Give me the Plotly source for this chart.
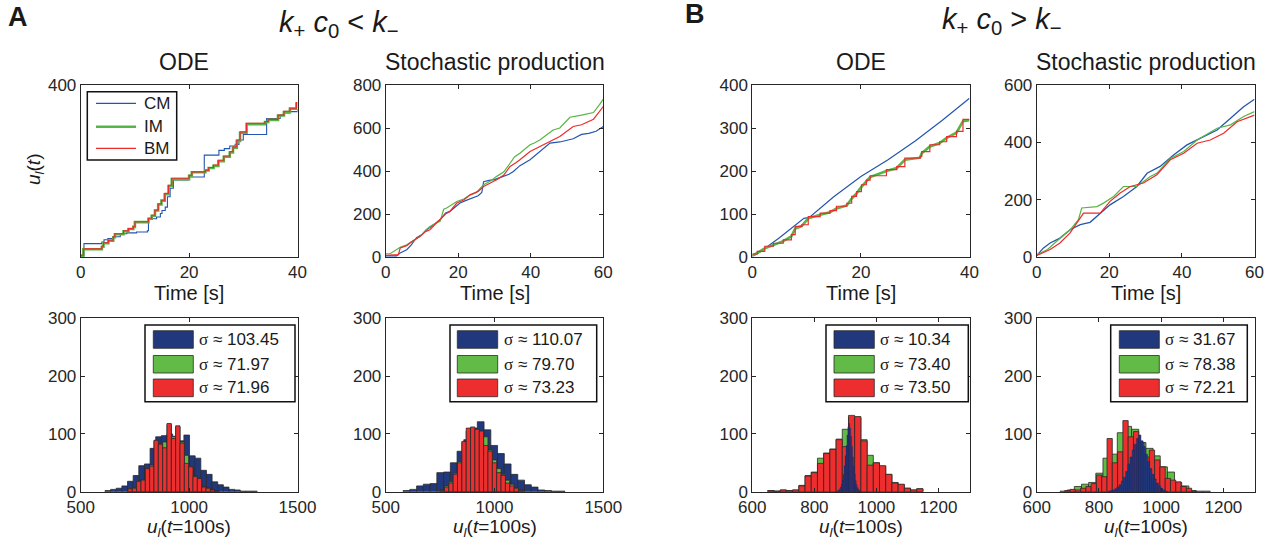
import plotly.graph_objects as go

W, H = 1281, 548
FONT = "Liberation Sans, Arial, sans-serif"
INK = "#262626"

# ---------------- data: trajectories ----------------
# Panel A, ODE
a_ode_t_cm = [0, 0.6, 3.9, 4.3, 5.0, 6.0, 7.3, 8.5, 10.3, 12.3, 12.5, 14.0, 14.7, 15.0, 15.6, 16.0, 16.5,
              17.1, 19.9, 22.8, 25.5, 26.5, 27.5, 28.5, 29.2, 30.0, 34.3, 36.8, 37.4, 38.6, 40]
a_ode_cm = [4, 31, 35, 40, 43, 47, 54, 56, 58, 61, 89, 93, 101, 108, 116, 140, 160,
            179, 186, 237, 248, 252, 258, 262, 272, 285, 322, 330, 335, 338, 343]
a_ode_t_im = [0, 0.5, 3.9, 4.2, 5.1, 6.0, 6.3, 7.9, 8.8, 9.7, 10.0, 12.5, 13.1, 13.7, 14.3, 14.9, 15.5,
              16.2, 16.8, 20.0, 20.5, 23.0, 23.6, 24.5, 25.4, 26.4, 27.5, 28.1, 28.8, 29.4, 30.6, 34.0,
              34.6, 36.4, 37.5, 38.6, 39.8, 40]
a_ode_im = [3, 18, 24, 32, 38, 46, 53, 60, 65, 70, 81, 89, 96, 108, 122, 131, 146,
            165, 181, 189, 197, 201, 207, 212, 223, 233, 243, 254, 270, 289, 309, 314,
            319, 329, 337, 345, 357, 357]
a_ode_bm = [4, 19, 25, 33, 39, 47, 54, 61, 66, 71, 82, 90, 97, 109, 124, 132, 148,
            167, 183, 190, 198, 202, 208, 214, 225, 235, 245, 256, 272, 291, 311, 315,
            320, 330, 339, 346, 359, 359]

# Panel A, stochastic production
a_st_t_cm = [0, 3, 4, 5.8, 7, 8.5, 10, 11.3, 13, 15, 16.5, 17.7, 19, 20.5, 22, 24.2, 25.5, 26.5, 27,
             28.5, 30, 32.4, 34, 35.2, 37, 39.8, 42, 45.3, 48, 51.7, 54, 56, 58, 60]
a_st_cm = [5, 5, 19, 34, 55, 90, 104, 127, 148, 173, 205, 212, 230, 251, 262, 277, 285, 300, 350,
           356, 360, 375, 385, 398, 425, 452, 485, 530, 535, 550, 570, 575, 585, 607]
a_st_t_im = [0, 1.2, 4, 5.8, 7.5, 9.5, 11, 12.2, 13.5, 15, 16, 16.8, 19.6, 21.5, 23.3, 25, 27, 29,
             30.6, 32.5, 34.3, 35.5, 37, 39.8, 41, 42.6, 44.5, 46.2, 48, 50.8, 54, 57.3, 59, 60]
a_st_im = [15, 15, 45, 57, 75, 96, 125, 142, 155, 166, 222, 228, 258, 270, 289, 300, 336, 355,
           375, 395, 436, 465, 483, 522, 530, 545, 570, 591, 600, 650, 660, 672, 710, 734]
a_st_t_bm = [0, 3, 3.5, 4, 5.8, 7.5, 9.5, 11, 12.2, 13.5, 15, 16.5, 17.7, 19.6, 21.5, 23.3, 25.5, 27,
             29, 30.6, 32.5, 34.3, 36, 37, 39.8, 41.5, 44, 46.2, 48, 51.7, 54, 57.3, 59, 60]
a_st_bm = [8, 8, 11, 42, 53, 75, 96, 118, 127, 150, 173, 200, 212, 251, 265, 289, 305, 328,
           345, 359, 380, 421, 440, 452, 491, 506, 525, 545, 560, 607, 615, 641, 680, 700]

# Panel B, ODE
b_ode_t_cm = [0, 1, 5, 9.5, 10.5, 15, 20, 25, 30, 35, 40]
b_ode_cm = [2, 8, 45, 90, 92, 140, 187, 226, 270, 318, 369]
b_ode_t = [0, 0.9, 2.3, 3.9, 5.7, 7.2, 7.9, 9.1, 10.3, 12.5, 14.3, 15.5, 17.4, 18.3, 19.2, 20.1,
           21.0, 21.7, 24.7, 26.6, 28.1, 30.9, 31.2, 32.7, 34.5, 35.8, 37.6, 38.8, 40]
b_ode_im = [4, 9, 20, 28, 37, 48, 66, 72, 90, 98, 104, 113, 120, 136, 148, 163,
            175, 186, 200, 207, 226, 231, 241, 257, 265, 277, 289, 316, 318]
b_ode_bm = [7, 13, 25, 32, 40, 52, 71, 75, 94, 102, 108, 118, 125, 141, 152, 168,
            179, 189, 203, 210, 230, 234, 245, 261, 268, 280, 292, 320, 320]

# Panel B, stochastic production
b_st_t_cm = [0, 1.8, 3.7, 6.4, 9.2, 12, 14.7, 17.5, 20.2, 23.9, 27.6, 30.4, 34, 37.7, 41.4, 45,
             49.7, 53.4, 57, 60]
b_st_cm = [5, 31, 49, 66, 95, 113, 121, 153, 182, 211, 246, 292, 316, 356, 391, 414, 443, 484, 524, 550]
b_st_t_im = [0, 3, 5.5, 9.2, 11.5, 12.4, 16.6, 18.4, 21.2, 23.9, 27.6, 31.3, 33.1, 36.8, 40.5,
             44.2, 49.7, 53.4, 57, 60]
b_st_im = [8, 26, 55, 95, 130, 171, 176, 188, 211, 246, 246, 281, 292, 344, 368, 408, 449, 461, 490, 507]
b_st_t_bm = [0, 3.7, 6.4, 9.2, 12.9, 17.5, 20.2, 23, 25.8, 29.4, 33.1, 36.8, 40.5, 44.2, 47.8, 51.5,
             55.2, 60]
b_st_bm = [5, 26, 49, 84, 153, 153, 194, 223, 246, 258, 287, 339, 362, 397, 408, 432, 472, 495]

# ---------------- data: histograms (first bin edge, bin width, counts) ----------------
a_ode_h_cm = (612, 26, [2, 4, 6, 10, 18, 28, 45, 48, 75, 95, 97, 100, 96, 88, 98, 62, 58, 37, 30,
                        17, 12, 8, 4, 3, 1, 1, 1])
a_ode_h_im = (718, 20, [5, 7, 17, 21, 39, 46, 88, 83, 86, 116, 95, 112, 86, 63, 42, 27, 22, 9, 6, 3, 1])
a_ode_h_bm = (718, 20, [5, 6, 18, 20, 40, 44, 89, 82, 76, 118, 92, 114, 84, 49, 43, 26, 23, 8, 6, 3, 1])

a_st_h_cm = (580, 31, [2, 4, 10, 13, 14, 33, 34, 50, 70, 90, 110, 121, 107, 80, 66, 48, 30, 20, 12,
                       8, 3, 2, 1, 1])
a_st_h_im = (750, 20, [3, 10, 17, 32, 52, 85, 105, 110, 107, 100, 95, 72, 55, 40, 30, 20, 13, 7, 3])
a_st_h_bm = (750, 20, [2, 8, 15, 30, 50, 87, 110, 112, 108, 105, 80, 70, 50, 33, 28, 15, 10, 6, 2])

b_ode_h_cm = (872, 3, [1, 2, 3, 5, 8, 13, 20, 30, 45, 62, 80, 98, 112, 118, 110, 96, 78, 60, 44, 30,
                       19, 12, 7, 4, 2, 1])
b_ode_h_im = (650, 20, [2, 1, 3, 2, 3, 11, 28, 34, 58, 67, 74, 91, 108, 128, 128, 90, 63, 50, 44, 30,
                        16, 12, 6, 3, 5])
b_ode_h_bm = (650, 20, [2, 1, 3, 2, 3, 10, 27, 33, 49, 66, 73, 90, 78, 132, 130, 88, 46, 50, 45, 30,
                        15, 13, 6, 3, 5])

b_st_h_cm = (830, 7, [1, 2, 3, 5, 8, 12, 18, 25, 35, 48, 60, 72, 82, 92, 98, 88, 78, 65, 52, 40, 30,
                      22, 15, 10, 6, 3, 1])
b_st_h_im = (675, 23, [1, 3, 9, 13, 16, 32, 58, 65, 102, 113, 108, 85, 75, 62, 43, 34, 16, 10, 2, 1, 1])
b_st_h_bm = (690, 17, [2, 4, 3, 6, 9, 14, 29, 26, 92, 50, 69, 123, 95, 104, 85, 60, 72, 55, 43, 23,
                       20, 17, 9, 6, 1])

sigma_labels = {
    "a_ode": ["103.45", "71.97", "71.96"],
    "a_st": ["110.07", "79.70", "73.23"],
    "b_ode": ["10.34", "73.40", "73.50"],
    "b_st": ["31.67", "78.38", "72.21"],
}
series_names = ["CM", "IM", "BM"]

# ---------------- styles ----------------
LINE_C = {"CM": "#2256b0", "IM": "#55b546", "BM": "#ee2a2a"}
BAR_C = {"CM": "#22387c", "IM": "#63bb47", "BM": "#ee2e2e"}
EDGE = "#2a2a2a"


def px_x(x):
    return x / W


def px_y(y):
    return 1 - y / H


X_DOM = [(80.7, 297.5), (385.7, 603.3), (752.3, 969.5), (1036.7, 1254.5)]
Y_TOP = (85, 257)
Y_BOT = (318.3, 491.7)

fig = go.Figure()


def axis(dom, rng, tickvals):
    return dict(domain=list(dom), range=rng, tickvals=tickvals, ticks="inside", ticklen=4,
                tickcolor=INK, tickwidth=1, showline=True, linecolor=INK, linewidth=1,
                mirror="ticks", showgrid=False, zeroline=False, automargin=False,
                fixedrange=True, tickfont=dict(family=FONT, size=17, color=INK))


layout_axes = {}
top_specs = [([0, 40], [0, 400], [0, 20, 40], [400]),
             ([0, 60], [0, 800], [0, 20, 40, 60], [0, 200, 400, 600, 800]),
             ([0, 40], [0, 400], [0, 20, 40], [0, 100, 200, 300, 400]),
             ([0, 60], [0, 600], [0, 20, 40, 60], [0, 200, 400, 600])]
bot_specs = [([500, 1500], [500, 1000, 1500]), ([500, 1500], [500, 1000, 1500]),
             ([600, 1300], [600, 800, 1000, 1200]), ([600, 1300], [600, 800, 1000, 1200])]

for i in range(4):
    xd = (px_x(X_DOM[i][0]), px_x(X_DOM[i][1]))
    xr, yr, xt, yt = top_specs[i]
    n = i + 1
    sfx = "" if n == 1 else str(n)
    layout_axes["xaxis" + sfx] = {**axis(xd, xr, xt), "anchor": "y" + sfx}
    layout_axes["yaxis" + sfx] = {**axis((px_y(Y_TOP[1]), px_y(Y_TOP[0])), yr, yt), "anchor": "x" + sfx}
    m = i + 5
    bxr, bxt = bot_specs[i]
    layout_axes["xaxis%d" % m] = {**axis(xd, bxr, bxt), "anchor": "y%d" % m}
    layout_axes["yaxis%d" % m] = {**axis((px_y(Y_BOT[1]), px_y(Y_BOT[0])), [0, 300], [0, 100, 200, 300]),
                                  "anchor": "x%d" % m}


def add_line(t, v, name, ax_n, width=1.2, shape="hv"):
    sfx = "" if ax_n == 1 else str(ax_n)
    fig.add_trace(go.Scatter(x=t, y=v, mode="lines", name=name, showlegend=False,
                             line=dict(color=LINE_C[name], width=width, shape=shape),
                             xaxis="x" + sfx, yaxis="y" + sfx, hoverinfo="skip"))


# top row
add_line(a_ode_t_cm, a_ode_cm, "CM", 1, 1.1)
add_line(a_ode_t_im, a_ode_im, "IM", 1, 2.6)
add_line(a_ode_t_im, a_ode_bm, "BM", 1, 1.1)

add_line(a_st_t_cm, a_st_cm, "CM", 2, 1.2, "linear")
add_line(a_st_t_im, a_st_im, "IM", 2, 1.2, "linear")
add_line(a_st_t_bm, a_st_bm, "BM", 2, 1.2, "linear")

add_line(b_ode_t_cm, b_ode_cm, "CM", 3, 1.2, "linear")
add_line(b_ode_t, b_ode_im, "IM", 3, 2.6, "linear")
add_line(b_ode_t, b_ode_bm, "BM", 3, 1.2)

add_line(b_st_t_cm, b_st_cm, "CM", 4, 1.3, "linear")
add_line(b_st_t_im, b_st_im, "IM", 4, 1.2, "linear")
add_line(b_st_t_bm, b_st_bm, "BM", 4, 1.2, "linear")


def add_hist(h, name, ax_n, edge_w=0.8, edge_c=EDGE):
    start, w, counts = h
    centers = [start + w * (k + 0.5) for k in range(len(counts))]
    fig.add_trace(go.Bar(x=centers, y=counts, width=w, name=name, showlegend=False,
                         marker=dict(color=BAR_C[name], line=dict(color=edge_c, width=edge_w)),
                         xaxis="x%d" % ax_n, yaxis="y%d" % ax_n, hoverinfo="skip"))


# bottom row (A: CM behind; B: CM in front)
add_hist(a_ode_h_cm, "CM", 5)
add_hist(a_ode_h_im, "IM", 5)
add_hist(a_ode_h_bm, "BM", 5)

add_hist(a_st_h_cm, "CM", 6)
add_hist(a_st_h_im, "IM", 6)
add_hist(a_st_h_bm, "BM", 6)

add_hist(b_ode_h_im, "IM", 7)
add_hist(b_ode_h_bm, "BM", 7)
add_hist(b_ode_h_cm, "CM", 7, 0.3, "#16275c")

add_hist(b_st_h_im, "IM", 8)
add_hist(b_st_h_bm, "BM", 8)
add_hist(b_st_h_cm, "CM", 8, 0.5, "#16275c")

shapes = []
annotations = []


def ann(text, x, y, size, **kw):
    d = dict(text=text, x=px_x(x), y=px_y(y), xref="paper", yref="paper", showarrow=False,
             font=dict(family=FONT, size=size, color=kw.pop("color", "#1a1a1a")),
             xanchor=kw.pop("xanchor", "center"), yanchor=kw.pop("yanchor", "middle"))
    d.update(kw)
    annotations.append(d)


# panel letters and headings
ann("<b>A</b>", 18, 17, 27)
ann("<b>B</b>", 695, 14, 27)
ann("<i>k</i><sub>+</sub> <i>c</i><sub>0</sub> &lt; <i>k</i><sub>−</sub>", 339, 24, 29)
ann("<i>k</i><sub>+</sub> <i>c</i><sub>0</sub> &gt; <i>k</i><sub>−</sub>", 1002, 21, 29)
for i, ttl in enumerate(["ODE", "Stochastic production", "ODE", "Stochastic production"]):
    cx = (X_DOM[i][0] + X_DOM[i][1]) / 2
    ann(ttl, cx - 5 if i == 0 else cx, 62, 23)
    ann("Time [s]", cx, 293, 20)
    ann("<i>u</i><sub><i>l</i></sub>(<i>t</i>=100s)", cx, 528, 19)
ann("<i>u</i><sub><i>l</i></sub>(<i>t</i>)", 35, 170, 19, textangle=-90)

# legend for top-left panel
shapes.append(dict(type="rect", xref="paper", yref="paper", x0=px_x(87.3), x1=px_x(176.7),
                   y0=px_y(160), y1=px_y(91.7), line=dict(color="#111", width=1.5), fillcolor="white"))
for nm, yy in zip(series_names, [103.3, 126.7, 148.3]):
    shapes.append(dict(type="line", xref="paper", yref="paper", x0=px_x(96), x1=px_x(136),
                       y0=px_y(yy), y1=px_y(yy),
                       line=dict(color=LINE_C[nm], width=2.6 if nm == "IM" else 1.2)))
    ann(nm, 141.7, yy, 17, xanchor="left")

# legends for histograms
hist_leg = [("a_ode", 145, 295, 153.3, 193.3, 196.7),
            ("a_st", 450, 596.7, 457.3, 497.7, 501.7),
            ("b_ode", 826, 968.3, 834, 874.3, 878.3),
            ("b_st", 1110.7, 1247.3, 1119.3, 1159.3, 1163.3)]
rows = [(330.7, 348.3), (355.5, 373.0), (379.0, 396.7)]
for key, bx0, bx1, p0, p1, tx in hist_leg:
    shapes.append(dict(type="rect", xref="paper", yref="paper", x0=px_x(bx0), x1=px_x(bx1),
                       y0=px_y(401.7), y1=px_y(325), line=dict(color="#111", width=1.5),
                       fillcolor="white"))
    for nm, (r0, r1), lab in zip(series_names, rows, sigma_labels[key]):
        shapes.append(dict(type="rect", xref="paper", yref="paper", x0=px_x(p0), x1=px_x(p1),
                           y0=px_y(r1), y1=px_y(r0), line=dict(color=EDGE, width=0.8),
                           fillcolor=BAR_C[nm]))
        ann("<span style=\"font-family:Liberation Serif, Times New Roman, serif\">σ</span> ≈ " + lab,
            tx, (r0 + r1) / 2, 17, xanchor="left")

fig.update_layout(width=W, height=H, margin=dict(l=0, r=0, t=0, b=0), paper_bgcolor="white",
                  plot_bgcolor="white", barmode="overlay", showlegend=False, hovermode=False,
                  font=dict(family=FONT, color=INK), shapes=shapes, annotations=annotations,
                  **layout_axes)

fig.write_html("out.html", config={"displayModeBar": False, "staticPlot": True},
               post_script="document.body.style.margin='0';")
